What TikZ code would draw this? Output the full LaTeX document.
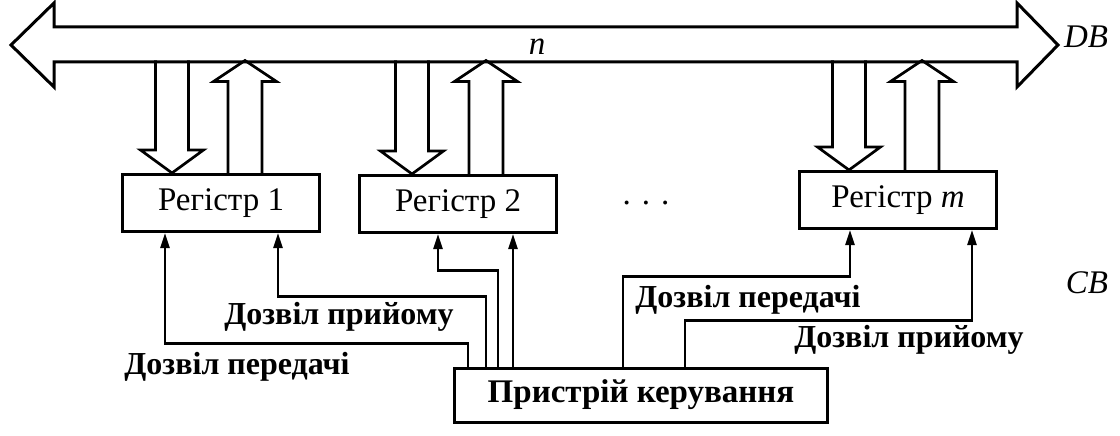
\documentclass[tikz,border=0pt]{standalone}
\usepackage{fontspec}
\setmainfont{Liberation Serif}
\usetikzlibrary{arrows.meta,calc}
\tikzset{
  reg/.style={draw,line width=3pt,minimum width=197pt,minimum height=57pt,inner sep=0pt,font=\fontsize{33}{38}\selectfont},
  ctrlbox/.style={draw,line width=3pt,minimum width=373pt,minimum height=54pt,inner sep=0pt,font=\fontsize{33}{38}\selectfont\bfseries},
  lbl/.style={inner sep=0pt,font=\fontsize{32}{36}\selectfont\bfseries},
  ital/.style={inner sep=0pt,font=\fontsize{33}{38}\selectfont\itshape},
  busline/.style={line width=3pt,line join=miter},
  hol/.style={line width=2.7pt,line join=miter},
  ctl/.style={line width=2.5pt,-{Triangle[length=15pt,width=9pt]}},
  pics/hdown/.style={code={\draw[hol] (-16.5,-#1) -- (-16.5,-23) -- (-31.5,-23) -- (0,0) -- (31.5,-23) -- (16.5,-23) -- (16.5,-#1);}},
  pics/hup/.style={code={\draw[hol] (-17,0) -- (-17,{-(#1-21)}) -- (-31.5,{-(#1-21)}) -- (0,-#1) -- (31.5,{-(#1-21)}) -- (17,{-(#1-21)}) -- (17,0);}}
}
\begin{document}
\begin{tikzpicture}[x=1pt,y=-1pt]
\useasboundingbox (0,0) rectangle (1120,436);
\fill[white] (0,0) rectangle (1120,436);
% data bus
\draw[busline] (11,45) -- (54,3) -- (54,27) -- (1017,27) -- (1017,3) -- (1058,45)
  -- (1017,87) -- (1017,62) -- (54,62) -- (54,87) -- cycle;
\node[ital] (n) at (537,47) {n};
\node[ital] (db) at (1086,37) {DB};
% registers
\node[reg] (r1) at (221,203) {Регістр 1};
\node[reg] (r2) at (458,204) {Регістр 2};
\node[reg] (rm) at (898,200) {Регістр \textit{m}};
\node[inner sep=0pt,font=\fontsize{33}{38}\selectfont] (dots) at (646,203) {. . .};
\node[ital] (cb) at (1087,283) {CB};
% hollow arrows between bus and registers
\pic at ($(r1.north)+(-49,0)$) {hdown=112.5};
\pic at ($(r1.north)+(24,0)$) {hup=112.5};
\pic at ($(r2.north)+(-46,0)$) {hdown=113.5};
\pic at ($(r2.north)+(28,0)$) {hup=113.5};
\pic at ($(rm.north)+(-49,0)$) {hdown=109.5};
\pic at ($(rm.north)+(24,0)$) {hup=109.5};
% control unit
\node[ctrlbox] (ctrl) at (641,395) {Пристрій керування};
\coordinate (c1) at ([xshift=15pt]ctrl.north west);
\coordinate (c2) at ([xshift=33pt]ctrl.north west);
\coordinate (c3) at ([xshift=45pt]ctrl.north west);
\coordinate (c4) at ([xshift=60pt]ctrl.north west);
\coordinate (c5) at ([xshift=170pt]ctrl.north west);
\coordinate (c6) at ([xshift=232pt]ctrl.north west);
\draw[ctl] (c1) -- ++(0,-23) -| ([xshift=-56pt]r1.south);
\draw[ctl] (c2) -- ++(0,-70) -| ([xshift=57pt]r1.south);
\draw[ctl] (c3) -- ++(0,-96) -| ([xshift=-20pt]r2.south);
\draw[ctl] (c4) -- (c4 |- r2.south);
\draw[ctl] (c5) -- ++(0,-90) -| ([xshift=-48pt]rm.south);
\draw[ctl] (c6) -- ++(0,-46) -| ([xshift=74pt]rm.south);
% labels
\node[lbl] (lp1) at (339,317) {Дозвіл прийому};
\node[lbl] (lt1) at (237,367) {Дозвіл передачі};
\node[lbl] (lt2) at (748,300) {Дозвіл передачі};
\node[lbl] (lp2) at (909,340) {Дозвіл прийому};
\end{tikzpicture}
\end{document}
